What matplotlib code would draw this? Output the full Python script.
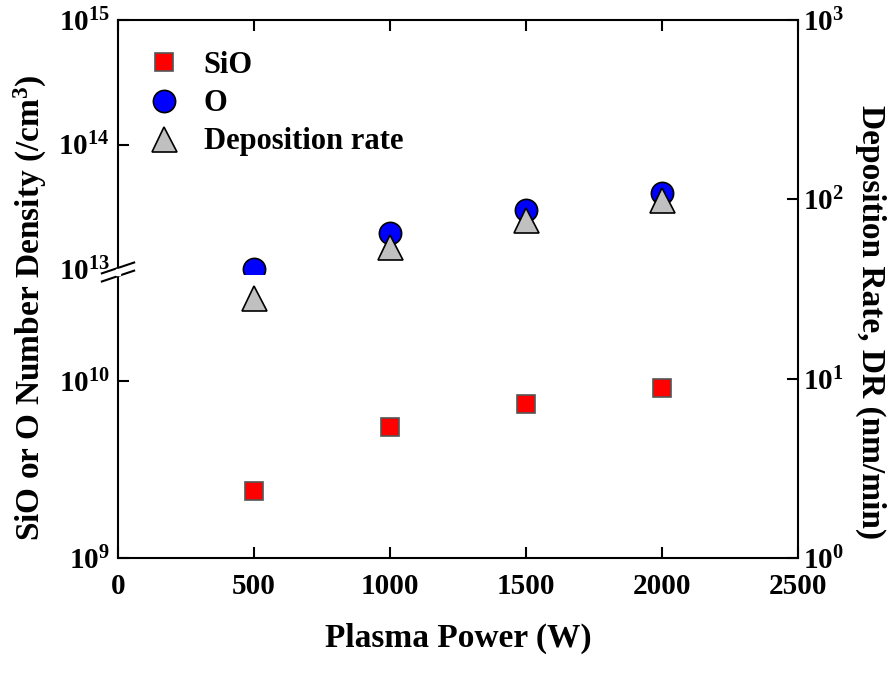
import matplotlib.pyplot as plt
from matplotlib.ticker import FixedLocator, NullLocator

plt.rcParams['font.family'] = 'Liberation Serif'
plt.rcParams['font.weight'] = 'bold'
plt.rcParams['mathtext.fontset'] = 'custom'
plt.rcParams['mathtext.rm'] = 'Liberation Serif:bold'
plt.rcParams['mathtext.bf'] = 'Liberation Serif:bold'
plt.rcParams['mathtext.it'] = 'Liberation Serif:bold'

# data
power = [500, 1000, 1500, 2000]
sio = [2.4e9, 5.5e9, 7.4e9, 9.1e9]
oxy = [1.0e13, 1.95e13, 3.0e13, 4.1e13]
dep_rate = [28, 54, 77, 99]

W, H = 896, 678
L, R, T, B = 118, 798, 20, 558
brk = 272
gap = 3

fig = plt.figure(figsize=(W / 100, H / 100), dpi=100)
ax_top = fig.add_axes([L / W, 1 - (brk - gap) / H, (R - L) / W, (brk - gap - T) / H])
ax_bot = fig.add_axes([L / W, 1 - B / H, (R - L) / W, (B - brk - gap) / H])
ax_r = fig.add_axes([L / W, 1 - B / H, (R - L) / W, (B - T) / H])

fs = 21
lfs = 24
tick_kw = dict(direction='in', length=8, width=1.5, labelsize=fs)

for ax in (ax_top, ax_bot):
    ax.set_yscale('log')
    ax.set_xlim(0, 2500)
    ax.spines['right'].set_visible(False)
    for s in ax.spines.values():
        s.set_linewidth(1.5)
    ax.yaxis.set_minor_locator(NullLocator())
    ax.xaxis.set_major_locator(FixedLocator([0, 500, 1000, 1500, 2000, 2500]))
    ax.tick_params(axis='both', which='major', **tick_kw)
    ax.tick_params(axis='y', right=False)

ax_top.set_ylim(1e13, 1e15)
ax_top.yaxis.set_major_locator(FixedLocator([1e13, 1e14, 1e15]))
ax_top.set_yticklabels(['$10^{13}$', '$10^{14}$', '$10^{15}$'])
ax_top.spines['bottom'].set_visible(False)
ax_top.tick_params(axis='x', bottom=False, labelbottom=False, top=True)
ax_top.tick_params(axis='y', which='major', pad=6)
ax_top.get_yticklines()[0].set_visible(False)

# lower panel: same px per decade as the right axis
ax_bot.set_ylim(1e9, 10 ** 10.6)
ax_bot.yaxis.set_major_locator(FixedLocator([1e9, 1e10]))
ax_bot.set_yticklabels(['$10^{9}$', '$10^{10}$'])
ax_bot.spines['top'].set_visible(False)
ax_bot.tick_params(axis='x', top=False, pad=11)
ax_bot.tick_params(axis='y', which='major', pad=6)
ax_bot.set_xlabel('Plasma Power (W)', fontsize=lfs, fontweight='bold', labelpad=16)

ax_r.set_yscale('log')
ax_r.set_ylim(1, 1000)
ax_r.set_xlim(0, 2500)
ax_r.patch.set_visible(False)
for k in ('left', 'top', 'bottom'):
    ax_r.spines[k].set_visible(False)
ax_r.spines['right'].set_linewidth(1.5)
ax_r.yaxis.tick_right()
ax_r.yaxis.set_minor_locator(NullLocator())
ax_r.yaxis.set_major_locator(FixedLocator([1, 10, 100, 1000]))
ax_r.set_yticklabels(['$10^{0}$', '$10^{1}$', '$10^{2}$', '$10^{3}$'])
ax_r.tick_params(axis='y', which='major', **tick_kw)
ax_r.tick_params(axis='x', bottom=False, labelbottom=False)

# markers
h1, = ax_bot.plot(power, sio, ls='none', marker='s', ms=13, mfc='red',
                  mec='#555555', mew=1.2, label='SiO', clip_on=False)
h2, = ax_top.plot(power, oxy, ls='none', marker='o', ms=16, mfc='blue',
                  mec='black', mew=1.2, label='O', clip_on=False)
h3, = ax_r.plot(power, dep_rate, ls='none', marker='^', ms=18, mfc='#c0c0c0',
                mec='black', mew=1.2, label='Deposition rate', clip_on=False)

ax_r.legend(handles=[h1, h2, h3], loc='upper left', frameon=False,
            bbox_to_anchor=(0.0, 0.982), handlelength=1.6,
            handletextpad=0.5, labelspacing=0.3, borderaxespad=0.3,
            prop={'weight': 'bold', 'size': 22, 'family': 'Liberation Serif'})

fig.text(0.034, 1 - 308 / H, 'SiO or O Number Density (/cm$^{3}$)',
         rotation=90, ha='center', va='center', fontsize=lfs, fontweight='bold')
fig.text(0.972, 1 - 322 / H, 'Deposition Rate, DR (nm/min)',
         rotation=270, ha='center', va='center', fontsize=lfs, fontweight='bold')

# break marks on the left spine
y0 = 1 - brk / H
dx, dy = 0.018, 0.008
for off in (-0.006, 0.006):
    fig.add_artist(plt.Line2D([L / W - dx, L / W + dx],
                              [y0 + off - dy, y0 + off + dy],
                              color='black', lw=1.5))
fig.add_artist(plt.Rectangle((L / W - 0.002, y0 - 0.005), 0.004, 0.01,
                             color='white', zorder=5))

fig.savefig('out.png', dpi=100)
